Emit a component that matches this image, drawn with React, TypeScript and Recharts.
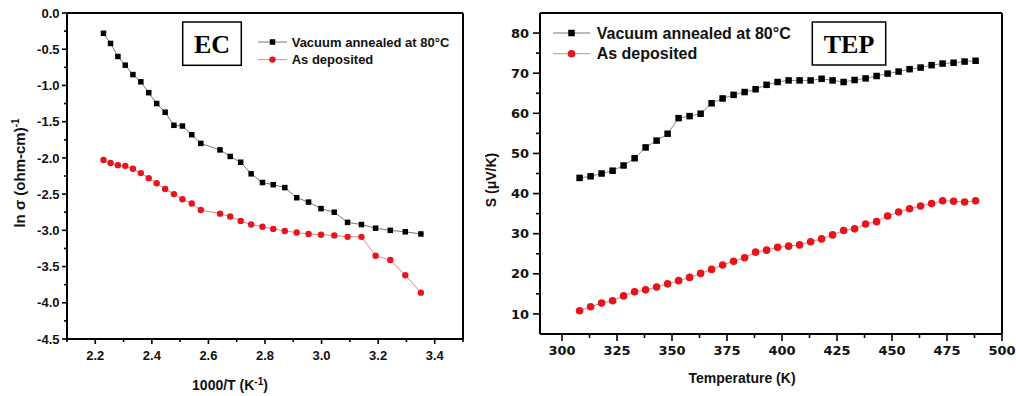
import { Legend, Line, LineChart, ReferenceLine, XAxis, YAxis } from 'recharts'

// EC panel: ln(sigma) vs 1000/T
const ecX = [2.229, 2.254, 2.28, 2.306, 2.333, 2.361, 2.389, 2.417, 2.447, 2.478, 2.508, 2.541, 2.573, 2.641, 2.677,
  2.714, 2.751, 2.791, 2.829, 2.87, 2.912, 2.954, 2.998, 3.045, 3.092, 3.141, 3.191, 3.243, 3.296, 3.351]
const ecAnnealed = [-0.28, -0.42, -0.6, -0.72, -0.85, -0.95, -1.1, -1.25, -1.37, -1.55, -1.56, -1.68, -1.8, -1.89, -1.98,
  -2.06, -2.22, -2.34, -2.37, -2.41, -2.55, -2.61, -2.7, -2.75, -2.89, -2.92, -2.97, -3.0, -3.02, -3.05]
const ecAsDeposited = [-2.03, -2.07, -2.1, -2.11, -2.15, -2.21, -2.28, -2.35, -2.43, -2.5, -2.57, -2.63, -2.72, -2.77, -2.81,
  -2.87, -2.92, -2.95, -2.98, -3.01, -3.03, -3.05, -3.06, -3.07, -3.09, -3.09, -3.35, -3.41, -3.62, -3.86]
const ecXTicks = [2.1, 2.2, 2.3, 2.4, 2.5, 2.6, 2.7, 2.8, 2.9, 3.0, 3.1, 3.2, 3.3, 3.4, 3.5]
const ecYTicks = [-4.5, -4.25, -4, -3.75, -3.5, -3.25, -3, -2.75, -2.5, -2.25, -2, -1.75, -1.5, -1.25, -1, -0.75, -0.5, -0.25, 0]

// TEP panel: S vs temperature
const tepT = [308, 313, 318, 323, 328, 333, 338, 343, 348, 353, 358, 363, 368, 373, 378, 383, 388, 393, 398, 403, 408,
  413, 418, 423, 428, 433, 438, 443, 448, 453, 458, 463, 468, 473, 478, 483, 488]
const tepAnnealed = [43.9, 44.3, 45.0, 45.7, 47.0, 48.8, 51.5, 53.2, 54.9, 58.8, 59.3, 59.9, 62.5, 63.7, 64.6, 65.3, 66.0,
  67.1, 67.8, 68.2, 68.2, 68.2, 68.6, 68.2, 67.8, 68.3, 68.7, 69.3, 69.9, 70.4, 71.0, 71.4, 72.0, 72.4, 72.6, 72.9, 73.1]
const tepAsDeposited = [10.8, 11.8, 12.7, 13.3, 14.5, 15.5, 16.0, 16.7, 17.5, 18.3, 19.1, 20.1, 21.1, 22.2, 23.1, 24.0,
  25.4, 25.9, 26.6, 26.9, 27.2, 28.0, 28.7, 29.7, 30.8, 31.2, 32.4, 33.0, 34.4, 35.4, 36.2, 36.9, 37.5, 38.2, 38.1, 37.9, 38.2]
const tepXTicks = [300, 312.5, 325, 337.5, 350, 362.5, 375, 387.5, 400, 412.5, 425, 437.5, 450, 462.5, 475, 487.5, 500]
const tepYTicks = [10, 15, 20, 25, 30, 35, 40, 45, 50, 55, 60, 65, 70, 75, 80]

const seriesNames = ['Vacuum annealed at 80°C', 'As deposited']

const ecData = ecX.map((x, i) => ({ x, annealed: ecAnnealed[i], deposited: ecAsDeposited[i] }))
const tepData = tepT.map((x, i) => ({ x, annealed: tepAnnealed[i], deposited: tepAsDeposited[i] }))

const SANS = '"Liberation Sans", Arial, sans-serif'
const RED = '#e8141c'

const onStep = (v: number, step: number) => Math.abs(v / step - Math.round(v / step)) < 1e-6

type TickOpts = { step: number; major: number; minor: number; gap: number; font: string; size: number; digits: number }

function leftTick(o: TickOpts) {
  return (props: any) => {
    const { x, y, payload } = props
    const big = onStep(payload.value, o.step)
    return (
      <g>
        <line x1={x} x2={x - (big ? o.major : o.minor)} y1={y} y2={y} stroke="#000" strokeWidth={1.6} />
        {big && (
          <text x={x - o.major - o.gap} y={y} dy="0.36em" textAnchor="end" fontFamily={o.font}
            fontWeight="bold" fontSize={o.size} fill="#111">
            {payload.value.toFixed(o.digits)}
          </text>
        )}
      </g>
    )
  }
}

function bottomTick(o: TickOpts) {
  return (props: any) => {
    const { x, y, payload } = props
    const big = onStep(payload.value, o.step)
    return (
      <g>
        <line x1={x} x2={x} y1={y} y2={y + (big ? o.major : o.minor)} stroke="#000" strokeWidth={1.6} />
        {big && (
          <text x={x} y={y + o.major + o.gap + o.size * 0.72} textAnchor="middle" fontFamily={o.font}
            fontWeight="bold" fontSize={o.size} fill="#111">
            {payload.value.toFixed(o.digits)}
          </text>
        )}
      </g>
    )
  }
}

const squareDot = (s: number) => (p: any) =>
  <rect key={`sq-${p.index}`} x={p.cx - s / 2} y={p.cy - s / 2} width={s} height={s} fill="#000" />
const roundDot = (r: number) => (p: any) =>
  <circle key={`ci-${p.index}`} cx={p.cx} cy={p.cy} r={r} fill={RED} />

function SeriesKey({ lineLen, sq, r, size, rowH, textX }: {
  lineLen: number; sq: number; r: number; size: number; rowH: number; textX: number
}) {
  return (
    <svg width={260} height={rowH * 2 + 8} style={{ overflow: 'visible' }}>
      {seriesNames.map((name, i) => {
        const y = 10 + i * rowH
        const mid = 3 + lineLen / 2
        return (
          <g key={name}>
            <line x1={3} x2={3 + lineLen} y1={y} y2={y} stroke={i === 0 ? '#777' : '#e88080'} strokeWidth={1} />
            {i === 0
              ? <rect x={mid - sq / 2} y={y - sq / 2} width={sq} height={sq} fill="#000" />
              : <circle cx={mid} cy={y} r={r} fill={RED} />}
            <text x={textX} y={y} dy="0.36em" fontFamily={SANS} fontWeight="bold" fontSize={size} fill="#111">
              {name}
            </text>
          </g>
        )
      })}
    </svg>
  )
}

function EcPanel() {
  return (
    <LineChart width={500} height={396} data={ecData} margin={{ top: 13, right: 37, bottom: 27, left: 7 }}>
      <XAxis type="number" dataKey="x" domain={[2.1, 3.5]} ticks={ecXTicks} interval={0} height={30}
        axisLine={{ stroke: '#000', strokeWidth: 2 }} tickLine={false} tickSize={0} tickMargin={0}
        tick={bottomTick({ step: 0.2, major: 5, minor: 3, gap: 7, font: SANS, size: 13, digits: 1 })} />
      <YAxis type="number" domain={[-4.5, 0]} ticks={ecYTicks} interval={0} width={60}
        axisLine={{ stroke: '#000', strokeWidth: 2 }} tickLine={false} tickSize={0} tickMargin={0}
        tick={leftTick({ step: 0.5, major: 5, minor: 3, gap: 2.5, font: SANS, size: 13, digits: 1 })} />
      <ReferenceLine y={0} stroke="#000" strokeWidth={2} />
      <ReferenceLine x={3.5} stroke="#000" strokeWidth={2} />
      <Line type="linear" dataKey="annealed" stroke="#777" strokeWidth={1} dot={squareDot(5.5)}
        activeDot={false} isAnimationActive={false} />
      <Line type="linear" dataKey="deposited" stroke="#e88080" strokeWidth={1} dot={roundDot(3.2)}
        activeDot={false} isAnimationActive={false} />
      <Legend layout="vertical" align="center" verticalAlign="middle" wrapperStyle={{ left: 255, top: 32 }}
        content={() => <SeriesKey lineLen={29} sq={5.5} r={3.2} size={13} rowH={17.6} textX={36.7} />} />
      <rect x={182.7} y={22} width={58.6} height={43.3} fill="#fff" stroke="#000" strokeWidth={1.5} />
      <text x={212} y={53} textAnchor="middle" fontFamily='"Liberation Serif", "Times New Roman", serif'
        fontWeight="bold" fontSize={26}>EC</text>
      <text transform="translate(25,173) rotate(-90)" textAnchor="middle" fontFamily={SANS} fontWeight="bold"
        fontSize={15} fill="#111">
        ln σ (ohm-cm)<tspan dy={-6} fontSize={10}>-1</tspan>
      </text>
      <text x={230} y={390} textAnchor="middle" fontFamily={SANS} fontWeight="bold" fontSize={14} fill="#111">
        1000/T (K<tspan dy={-5} fontSize={10}>-1</tspan><tspan dy={5}>)</tspan>
      </text>
    </LineChart>
  )
}

function TepPanel() {
  return (
    <LineChart width={546} height={396} data={tepData} margin={{ top: 13, right: 14, bottom: 32, left: 10 }}>
      <XAxis type="number" dataKey="x" domain={[290, 500]} ticks={tepXTicks} interval={0} height={30}
        axisLine={{ stroke: '#000', strokeWidth: 2 }} tickLine={false} tickSize={0} tickMargin={0}
        tick={bottomTick({ step: 25, major: 7, minor: 4, gap: 5, font: '"DejaVu Sans", sans-serif', size: 13, digits: 0 })} />
      <YAxis type="number" domain={[5, 85]} ticks={tepYTicks} interval={0} width={60}
        axisLine={{ stroke: '#000', strokeWidth: 2 }} tickLine={false} tickSize={0} tickMargin={0}
        tick={leftTick({ step: 10, major: 7, minor: 4, gap: 4, font: '"DejaVu Sans", sans-serif', size: 13, digits: 0 })} />
      <ReferenceLine y={85} stroke="#000" strokeWidth={2} />
      <ReferenceLine x={500} stroke="#000" strokeWidth={2} />
      <Line type="linear" dataKey="annealed" stroke="#888" strokeWidth={1} dot={squareDot(6.5)}
        activeDot={false} isAnimationActive={false} />
      <Line type="linear" dataKey="deposited" stroke="#e88080" strokeWidth={1} dot={roundDot(3.8)}
        activeDot={false} isAnimationActive={false} />
      <Legend layout="vertical" align="center" verticalAlign="middle" wrapperStyle={{ left: 80, top: 23 }}
        content={() => <SeriesKey lineLen={37} sq={6.5} r={3.8} size={16} rowH={20.7} textX={46.7} />} />
      <rect x={342.3} y={22} width={73.4} height={43} fill="#fff" stroke="#000" strokeWidth={1.5} />
      <text x={379} y={53} textAnchor="middle" fontFamily='"Liberation Serif", "Times New Roman", serif'
        fontWeight="bold" fontSize={26}>TEP</text>
      <text transform="translate(26,180) rotate(-90)" textAnchor="middle" fontFamily={SANS} fontWeight="bold"
        fontSize={14} fill="#111">
        S (μV/K)
      </text>
      <text x={272} y={383} textAnchor="middle" fontFamily={SANS} fontWeight="bold" fontSize={14} fill="#111">
        Temperature (K)
      </text>
    </LineChart>
  )
}

export default function App() {
  return (
    <div style={{ position: 'absolute', left: 0, top: 0, width: 1016, height: 396, background: '#fff' }}>
      <div style={{ position: 'absolute', left: 0, top: 0 }}>
        <EcPanel />
      </div>
      <div style={{ position: 'absolute', left: 470, top: 0 }}>
        <TepPanel />
      </div>
    </div>
  )
}
